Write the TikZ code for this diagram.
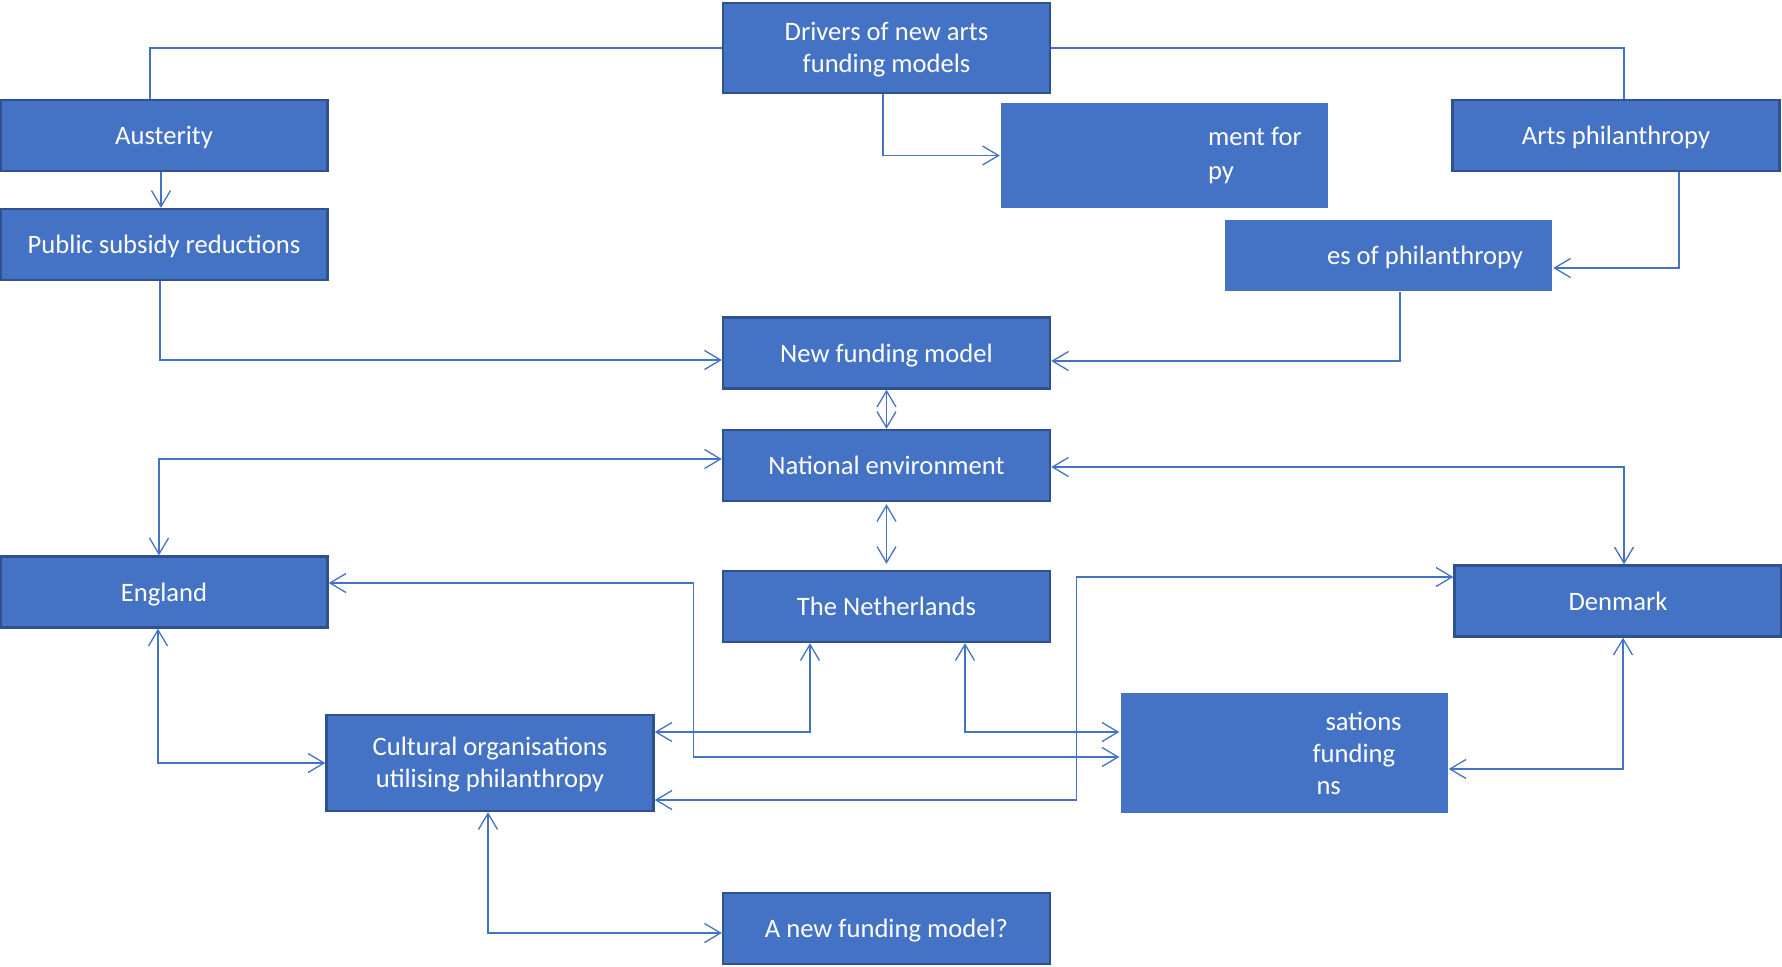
\documentclass[tikz,border=0pt]{standalone}
\usepackage{fontspec}
\setmainfont{Carlito}
\usepackage{tikz}
\usetikzlibrary{arrows.meta}

\definecolor{boxblue}{HTML}{4472C4}
\definecolor{edgeblue}{HTML}{2F528F}

\begin{document}
\begin{tikzpicture}[x=0.5pt, y=-0.5pt,
    box/.style={draw=edgeblue, line width=1.2pt, fill=boxblue, text=white, align=center, minimum width=163.5pt, minimum height=35.5pt, inner sep=0pt, font=\fontsize{13.3}{16}\selectfont},
    one line/.style={text height=9pt, text depth=0pt},
    cut box/.style={box, draw=none, text width=163.5pt, align=flush left},
    link/.style={draw=boxblue, line width=0.65pt},
    arr/.style={link, -{Straight Barb[length=8pt,width=9.5pt]}},
    dbl/.style={link, {Straight Barb[length=8pt,width=9.5pt]}-{Straight Barb[length=8pt,width=9.5pt]}}]
    \useasboundingbox (0, 0) rectangle (1782, 966);

    % draw top row
    \node[box, minimum height=45pt] (drivers) at (886.5, 48) {\rule{0pt}{11pt}Drivers of new arts\\funding models};
    \node[box, one line] (austerity) at (164, 135.5) {Austerity};
    \node[box, one line] (arts) at (1616, 135.5) {Arts philanthropy};
    \node[box, one line] (subsidy) at (164, 244.5) {Public subsidy reductions};
    \node[cut box, minimum height=52.5pt, font=\fontsize{13.3}{17}\selectfont] (mentfor) at (1164.5, 155.5) {\hspace*{103.5pt}ment for\\\hspace*{103.5pt}py};
    \node[cut box, one line] (esof) at (1388.5, 255.5) {\hspace*{51pt}es of philanthropy};

    % draw middle column
    \node[box, one line] (newmodel) at (886.5, 353) {New funding model};
    \node[box, one line] (national) at (886.5, 465.5) {National environment};
    \node[box, one line] (netherlands) at (886.5, 606.5) {The Netherlands};
    \node[box, one line] (england) at (164, 592) {England};
    \node[box, one line] (denmark) at (1618, 601) {Denmark};

    % draw bottom boxes
    \node[box, minimum height=48pt] (cultural) at (490, 763) {\rule{0pt}{11pt}Cultural organisations\\utilising philanthropy};
    \node[cut box, minimum height=60pt] (sations) at (1284, 753) {\hspace*{102.5pt}sations\\\hspace*{96pt}funding\\\hspace*{98pt}ns};
    \node[box, one line] (newq) at (886.5, 928.5) {A new funding model?};

    % draw drivers connectors
    \draw[link] (drivers.west) -| ([xshift=-7pt]austerity.north);
    \draw[link] (drivers.east) -| ([xshift=4pt]arts.north);
    \draw[arr] ([xshift=-1.75pt]drivers.south) |- (mentfor.west);
    \draw[arr] ([xshift=-1.5pt]austerity.south) -- ([xshift=-1.5pt]subsidy.north);
    \draw[arr] ([xshift=31.5pt]arts.south) |- ([yshift=-6.25pt]esof.east);
    \draw[arr] ([xshift=-2pt]subsidy.south) |- ([yshift=-3.5pt]newmodel.west);
    \draw[arr] ([xshift=5.75pt]esof.south) |- ([yshift=-4pt]newmodel.east);

    % draw national connectors
    \draw[dbl] (newmodel.south) -- (national.north);
    \draw[dbl] ([yshift=-1pt]national.south) -- ([yshift=3pt]netherlands.north);
    \draw[dbl] ([xshift=-2.5pt]england.north) |- ([yshift=3.25pt]national.west);
    \draw[dbl] ([xshift=3pt]denmark.north) |- ([yshift=-0.75pt]national.east);

    % draw country connectors
    \draw[dbl] ([xshift=-38.25pt]netherlands.south) |- ([yshift=15.5pt]cultural.east);
    \draw[dbl] ([xshift=39.25pt]netherlands.south) |- ([yshift=10.5pt]sations.west);
    \draw[dbl] ([yshift=-2pt]sations.west) -| ([xshift=19.5pt]cultural.north east) |- ([yshift=4.5pt]england.east);
    \draw[dbl] ([yshift=-18.5pt]cultural.east) -| ([xshift=-21.5pt]sations.north west) |- ([yshift=12pt]denmark.west);
    \draw[dbl] ([xshift=2.5pt]denmark.south) |- ([yshift=-8pt]sations.east);
    \draw[dbl] ([xshift=-3pt]england.south) |- (cultural.west);
    \draw[dbl] ([xshift=-1pt]cultural.south) |- ([yshift=-2.25pt]newq.west);
\end{tikzpicture}
\end{document}
